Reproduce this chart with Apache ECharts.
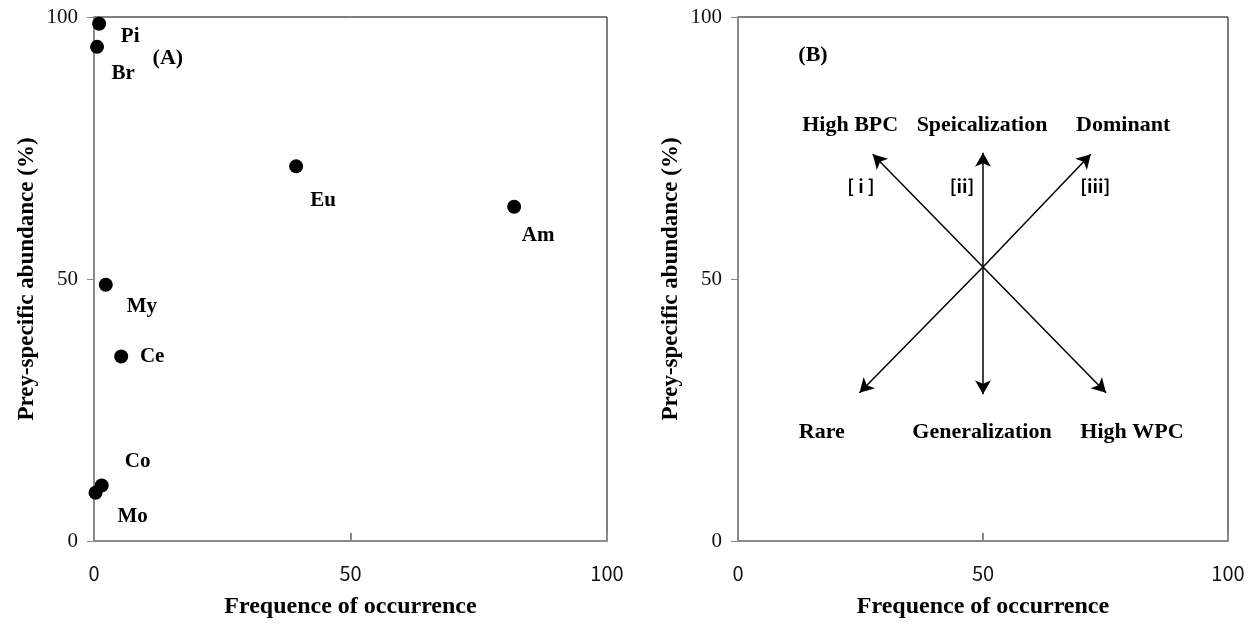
<!DOCTYPE html>
<html>
<head>
<meta charset="utf-8">
<script src="https://cdn.jsdelivr.net/npm/echarts@6/dist/echarts.min.js"></script>
<style>
html,body{margin:0;padding:0;background:#fff;}
#chart{width:1253px;height:626px;}
</style>
</head>
<body>
<div id="chart"></div>
<script>
// ---- Panel A data ----
const preyNames = ['Pi', 'Br', 'Eu', 'Am', 'My', 'Ce', 'Co', 'Mo'];
const preyFrequency = [1.0, 0.6, 39.4, 81.9, 2.3, 5.3, 1.5, 0.3];
const preyAbundance = [98.7, 94.3, 71.5, 63.8, 48.9, 35.2, 10.6, 9.2];

// ---- Axis ticks ----
const axisMin = 0, axisMax = 100, axisStep = 50;
const xAxisTitle = 'Frequence of occurrence';
const yAxisTitle = 'Prey-specific abundance (%)';

// ---- Panel labels (data coordinates) ----
const panelALabel = '(A)', panelALabelX = 14.4, panelALabelY = 92.1;
const panelBLabel = '(B)', panelBLabelX = 15.3, panelBLabelY = 92.7;

// ---- Panel B strategy labels (data coordinates) ----
const strategyText = ['High BPC', 'Speicalization', 'Dominant', 'Rare', 'Generalization', 'High WPC'];
const strategyX = [22.9, 49.8, 78.6, 17.1, 49.8, 80.4];
const strategyY = [79.4, 79.4, 79.4, 20.8, 20.8, 20.8];

const pathText = ['[ i ]', '[ii]', '[iii]'];
const pathX = [25.1, 45.7, 72.9];
const pathY = [67.7, 67.7, 67.7];

// ---- Panel B arrows ----
const arrowOriginX = 50, arrowOriginY = 52.3;
const arrowTipX = [27.5, 50, 72.0, 24.8, 50, 75.1];
const arrowTipY = [73.8, 74.1, 73.8, 28.3, 28.0, 28.3];

// label offsets (pixels) for panel A point labels
const labelOffset = {Pi:[31,13], Br:[26,27], Eu:[27,34], Am:[24,29], My:[36,22], Ce:[31,0], Co:[36,-24], Mo:[37,24]};

const serif = '"Liberation Serif", "Times New Roman", serif';
const sans = '"Noto Sans CJK KR", "Noto Sans", sans-serif';
const gray = '#8a8a8a';

function xAxisDef(idx) {
  return {
    type: 'value', gridIndex: idx, min: axisMin, max: axisMax, interval: axisStep,
    name: xAxisTitle, nameLocation: 'middle', nameGap: 54,
    nameTextStyle: {fontFamily: serif, fontWeight: 'bold', fontSize: 24, color: '#000'},
    axisLine: {show: true, lineStyle: {color: gray, width: 2}},
    axisTick: {show: true, inside: true, length: 8, lineStyle: {color: gray, width: 2}},
    axisLabel: {margin: 22, fontFamily: sans, fontSize: 20, color: '#111'},
    splitLine: {show: false}
  };
}
function yAxisDef(idx) {
  return {
    type: 'value', gridIndex: idx, min: axisMin, max: axisMax, interval: axisStep,
    name: yAxisTitle, nameLocation: 'middle', nameGap: 55,
    nameTextStyle: {fontFamily: serif, fontWeight: 'bold', fontSize: 23, color: '#000'},
    axisLine: {show: true, lineStyle: {color: gray, width: 2}},
    axisTick: {show: true, inside: false, length: 7, lineStyle: {color: gray, width: 1}},
    axisLabel: {margin: 16, fontFamily: serif, fontSize: 21, color: '#111'},
    splitLine: {show: false}
  };
}

const pointData = preyNames.map((n, i) => ({
  name: n,
  value: [preyFrequency[i], preyAbundance[i]],
  label: {offset: labelOffset[n]}
}));

function textSeries(idx, texts, xs, ys, style) {
  return {
    type: 'scatter', xAxisIndex: idx, yAxisIndex: idx, symbolSize: 0, silent: true,
    itemStyle: {opacity: 1},
    data: texts.map((t, i) => ({name: t, value: [xs[i], ys[i]]})),
    label: Object.assign({show: true, position: 'inside', formatter: '{b}', color: '#000', opacity: 1, align: 'center', verticalAlign: 'middle'}, style),
    z: 5
  };
}

const arrowLines = arrowTipX.map((tx, i) => [
  {coord: [arrowOriginX, arrowOriginY]},
  {coord: [tx, arrowTipY[i]]}
]);

const option = {
  animation: false,
  backgroundColor: '#fff',
  grid: [
    {left: 94, right: 646, top: 17, bottom: 85, show: true, borderColor: '#000', borderWidth: 1, backgroundColor: 'transparent'},
    {left: 738, right: 25, top: 17, bottom: 85, show: true, borderColor: '#000', borderWidth: 1, backgroundColor: 'transparent'}
  ],
  xAxis: [xAxisDef(0), xAxisDef(1)],
  yAxis: [yAxisDef(0), yAxisDef(1)],
  series: [
    {
      type: 'scatter', xAxisIndex: 0, yAxisIndex: 0, symbol: 'circle', symbolSize: 14,
      itemStyle: {color: '#000', opacity: 1},
      data: pointData,
      label: {show: true, position: 'inside', formatter: '{b}', fontFamily: serif, fontWeight: 'bold', fontSize: 21, color: '#000', opacity: 1, align: 'center', verticalAlign: 'middle'},
      z: 4
    },
    textSeries(0, [panelALabel], [panelALabelX], [panelALabelY], {fontFamily: serif, fontWeight: 'bold', fontSize: 22}),
    textSeries(1, [panelBLabel], [panelBLabelX], [panelBLabelY], {fontFamily: serif, fontWeight: 'bold', fontSize: 22}),
    textSeries(1, strategyText, strategyX, strategyY, {fontFamily: serif, fontWeight: 'bold', fontSize: 22}),
    textSeries(1, pathText, pathX, pathY, {fontFamily: sans, fontWeight: 'bold', fontSize: 18}),
    {
      type: 'scatter', xAxisIndex: 1, yAxisIndex: 1, data: [], silent: true,
      markLine: {
        silent: true, animation: false,
        symbol: ['none', 'arrow'], symbolSize: [12, 14],
        lineStyle: {color: '#000', width: 1.5, type: 'solid', opacity: 1},
        label: {show: false},
        emphasis: {disabled: true},
        data: arrowLines
      }
    }
  ]
};

const chart = echarts.init(document.getElementById('chart'), null, {renderer: 'canvas'});
chart.setOption(option);
</script>
</body>
</html>
